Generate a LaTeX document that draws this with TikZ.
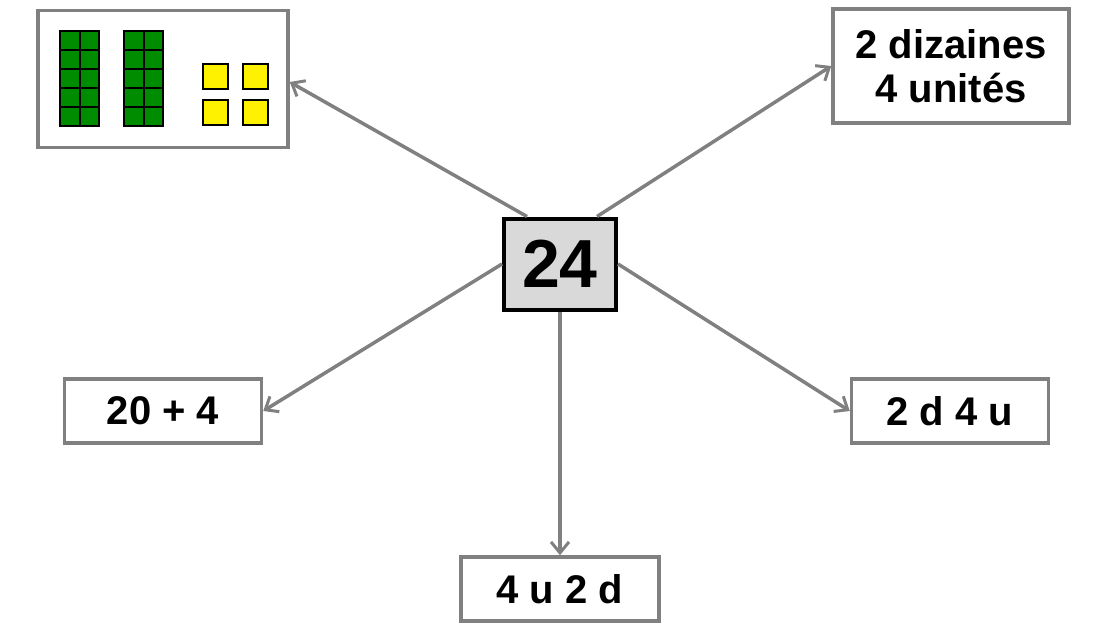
\documentclass[tikz,border=0pt]{standalone}
\usepackage{fontspec}
\setmainfont{Liberation Sans}
\usetikzlibrary{positioning, arrows.meta}
\tikzset{
	x=1pt, y=-1pt,
	repbox/.style={draw=gray, line width=3.5pt, fill=white, font=\bfseries\fontsize{40}{44}\selectfont, align=center, inner sep=0pt},
	link/.style={draw=gray, line width=3.5pt, -{Straight Barb[length=11pt, width=18pt, line width=3pt]}},
	ten/.style={fill=green!55!black, draw=black, line width=1.2pt},
	one/.style={fill=yellow, draw=black, line width=1.2pt}}

\begin{document}
\begin{tikzpicture}
		\useasboundingbox (0,0) rectangle (1100,641);
		
		\node[draw=black, line width=4pt, fill=gray!30, minimum width=112pt, minimum height=91pt, inner sep=0pt, font=\bfseries\fontsize{68}{72}\selectfont] (num) at (560,264) {24};
		\node[repbox, minimum width=250pt, minimum height=137pt] (blocks) at (163,79) {};
		\node[repbox, minimum width=236pt, minimum height=114pt] (words) at (951,66) {2 dizaines\\4 unités};
		\node[repbox, minimum width=197pt, minimum height=64pt] (sum) at (163,411) {20 + 4};
		\node[repbox, minimum width=197pt, minimum height=64pt] (du) at (950,411) {2 d 4 u};
		\node[repbox, minimum width=198pt, minimum height=64pt] (ud) at (560,589) {4 u 2 d};
		
		% base ten blocks
		\foreach \bx in {60,124}
			\foreach \r in {0,...,4} {
				\draw[ten] (\bx,31+19*\r) rectangle ++(20,19);
				\draw[ten] (\bx+20,31+19*\r) rectangle ++(19,19);
			}
		\foreach \ux in {203,243}
			\foreach \uy in {64,100}
				\draw[one] (\ux,\uy) rectangle ++(25,25);
		
		\draw[link] ([xshift=-33pt]num.north) -- (blocks.east |- 0,82);
		\draw[link] ([xshift=37pt]num.north) -- (words.west);
		\draw[link] (num.west) -- (sum.east);
		\draw[link] (num.east) -- (du.west);
		\draw[link] (num.south) -- (ud.north);
	\end{tikzpicture}
\end{document}
